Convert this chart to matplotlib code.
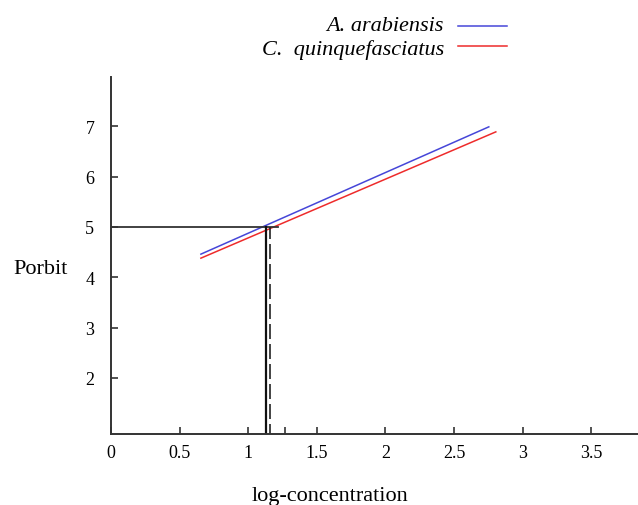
import matplotlib

matplotlib.use("Agg")

import matplotlib.pyplot as plt
from matplotlib.lines import Line2D

# fitted probit lines (log-concentration vs probit)
arab_x = [0.655, 2.753]
arab_y = [4.46, 6.99]
quin_x = [0.655, 2.804]
quin_y = [4.38, 6.89]

# LC50 guide lines
lc50_probit = 5.0
lc50_arab = 1.129
lc50_quin = 1.158
guide_end = 1.22

x_ticks = [0, 0.5, 1, 1.5, 2, 2.5, 3, 3.5]
x_labels = ["0", "0.5", "1", "1.5", "2", "2.5", "3", "3.5"]
x_minor = [1.27]
y_ticks = [2, 3, 4, 5, 6, 7]
y_labels = ["2", "3", "4", "5", "6", "7"]

SERIF = ["Liberation Serif", "DejaVu Serif"]
BLUE = "#4646d8"
RED = "#ee2b2b"


def main() -> None:
    fig = plt.figure(figsize=(6.38, 5.06), dpi=100)
    ax = fig.add_axes([0.174, 0.1403, 0.826, 0.7055])

    ax.plot(arab_x, arab_y, color=BLUE, lw=1.1)
    ax.plot(quin_x, quin_y, color=RED, lw=1.1)

    ax.plot([0, guide_end], [lc50_probit, lc50_probit], color="#333333", lw=1.3)
    ax.plot([lc50_arab, lc50_arab], [0, lc50_probit], color="#111111", lw=1.6)
    ax.plot([lc50_quin, lc50_quin], [0, lc50_probit], color="#222222", lw=1.2,
            dashes=(9, 3))

    ax.set_xlim(0, 3.84)
    ax.set_ylim(0.885, 7.98)

    for side in ["top", "right"]:
        ax.spines[side].set_visible(False)
    for side in ["left", "bottom"]:
        ax.spines[side].set_linewidth(1.4)
        ax.spines[side].set_color("#333333")

    ax.set_xticks(x_ticks)
    ax.set_xticklabels(x_labels, family=SERIF, fontsize=13)
    ax.set_xticks(x_minor, minor=True)
    ax.set_yticks(y_ticks)
    ax.set_yticklabels(y_labels, family=SERIF, fontsize=13)
    ax.tick_params(which="both", direction="in", length=5, width=1.2,
                   color="#333333", pad=7)
    ax.tick_params(axis="y", pad=12)

    fig.text(41 / 638, 1 - 270 / 506, "Porbit", family=SERIF, fontsize=16,
             ha="center", va="center")
    fig.text(330 / 638, 1 - 497 / 506, "log-concentration", family=SERIF,
             fontsize=16, ha="center", va="center")

    # legend: right-aligned italic names followed by the line sample
    legend_rows = [("A. arabiensis", BLUE, 31, 27),
                   ("C.  quinquefasciatus", RED, 55, 47)]
    for name, color, base_py, line_py in legend_rows:
        fig.text(444 / 638, 1 - base_py / 506, name, family=SERIF,
                 style="italic", fontsize=16, ha="right", va="baseline")
        fy = 1 - line_py / 506
        fig.add_artist(Line2D([458 / 638, 507 / 638], [fy, fy],
                              transform=fig.transFigure, color=color, lw=1.1))

    fig.savefig("out.png", dpi=100)
    plt.close(fig)


if __name__ == "__main__":
    main()
